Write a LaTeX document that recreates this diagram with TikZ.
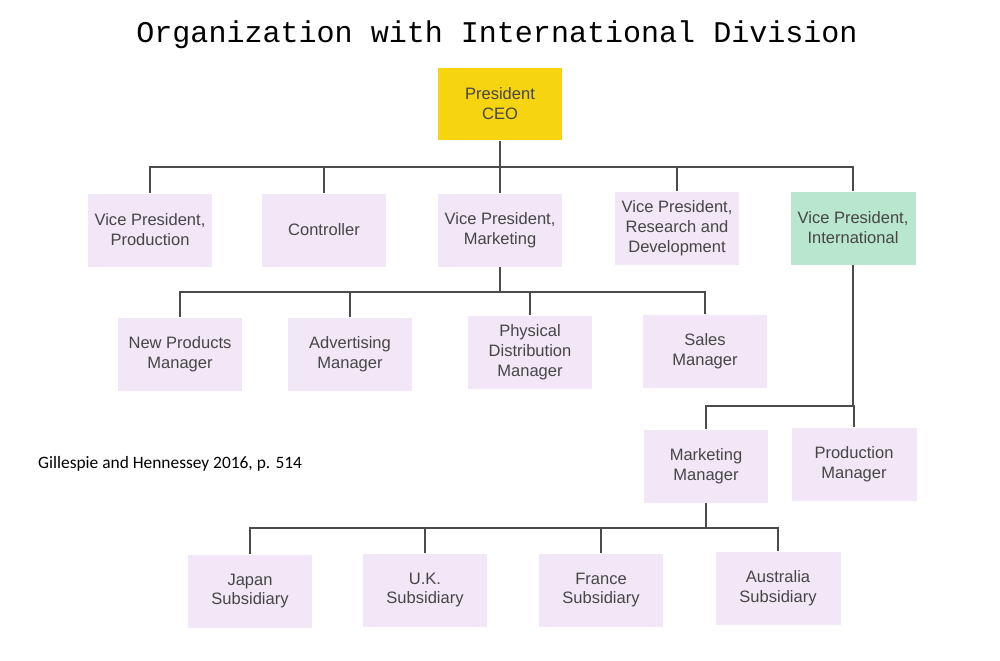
\documentclass[tikz,border=0pt]{standalone}
\usepackage{fontspec}
\setmainfont{Liberation Sans}
\newfontfamily\titlefont{Liberation Mono}
\newfontfamily\notefont{Carlito}
\definecolor{boxlav}{RGB}{241,231,246}
\definecolor{boxceo}{RGB}{247,212,16}
\definecolor{boxint}{RGB}{184,230,206}
\definecolor{linkgray}{RGB}{75,75,75}
\definecolor{txtgray}{RGB}{70,70,70}
\tikzset{
  unit/.style={fill=boxlav, minimum width=2.5cm, minimum height=1.46cm, inner sep=0pt,
    align=center, text=txtgray, font=\fontsize{9.4}{11.3}\selectfont},
  link/.style={draw=linkgray, line width=0.8pt},
}
\begin{document}
\begin{tikzpicture}[x=0.02cm, y=-0.02cm]
\useasboundingbox (0,0) rectangle (1000,660);
% title and source
\node (title) at (497,35) {\titlefont\fontsize{17.1}{19}\selectfont Organization with International Division};
\node[anchor=west, font=\notefont\fontsize{9.9}{11}\selectfont] (src) at (32,464) {Gillespie and Hennessey 2016, p. 514};

% top
\node[unit, fill=boxceo] (ceo) at (500,104) {President\\CEO};

% vice presidents
\node[unit] (vpprod) at (150,230) {Vice President,\\Production};
\node[unit] (ctrl) at (324,230) {Controller};
\node[unit] (vpmkt) at (500,230) {Vice President,\\Marketing};
\node[unit] (vprd) at (677,228) {Vice President,\\Research and\\Development};
\node[unit, fill=boxint] (vpint) at (853,228) {Vice President,\\International};

% marketing managers
\node[unit] (newprod) at (180,354) {New Products\\Manager};
\node[unit] (advert) at (350,354) {Advertising\\Manager};
\node[unit] (physdist) at (530,352) {Physical\\Distribution\\Manager};
\node[unit] (sales) at (705,351) {Sales\\Manager};

% international
\node[unit] (intmkt) at (706,466) {Marketing\\Manager};
\node[unit] (intprod) at (854,464) {Production\\Manager};

% subsidiaries
\node[unit] (japan) at (250,591) {Japan\\Subsidiary};
\node[unit] (uk) at (425,590) {U.K.\\Subsidiary};
\node[unit] (france) at (601,590) {France\\Subsidiary};
\node[unit] (austr) at (778,588) {Australia\\Subsidiary};

% connectors
\draw[link] (ceo.south) -- ++(0,26) coordinate (j1);
\foreach \n in {vpprod,ctrl,vpmkt,vprd,vpint}
  \draw[link] (j1) -| (\n.north);
\draw[link] (vpmkt.south) -- ++(0,25) coordinate (j2);
\foreach \n in {newprod,advert,physdist,sales}
  \draw[link] (j2) -| (\n.north);
\draw[link] (vpint.south) -- ++(0,141) coordinate (j3);
\foreach \n in {intmkt,intprod}
  \draw[link] (j3) -| (\n.north);
\draw[link] (intmkt.south) -- ++(0,25) coordinate (j4);
\foreach \n in {japan,uk,france,austr}
  \draw[link] (j4) -| (\n.north);
\end{tikzpicture}
\end{document}
